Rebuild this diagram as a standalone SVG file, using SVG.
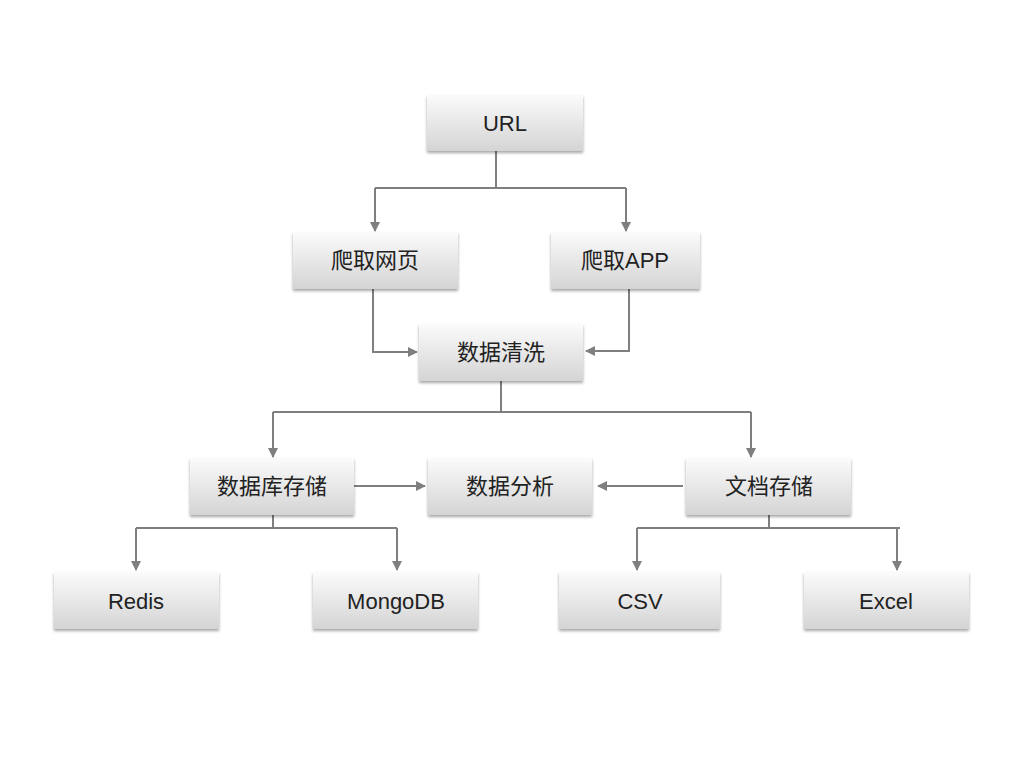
<svg xmlns="http://www.w3.org/2000/svg" width="1024" height="768" viewBox="0 0 1024 768">
<style>
.n rect{fill:url(#g);filter:url(#s)}
.n text{font-family:"Liberation Sans","Noto Sans CJK SC",sans-serif;font-size:22px;fill:#222;text-anchor:middle;dominant-baseline:central}
.c path{fill:none;stroke:#7f7f7f;stroke-width:2}
</style>
<defs>
<linearGradient id="g" x1="0" y1="0" x2="0" y2="1"><stop offset="0" stop-color="#fbfbfb"/><stop offset="1" stop-color="#d4d4d4"/></linearGradient>
<filter id="s" x="-10%" y="-20%" width="120%" height="150%"><feDropShadow dx="0" dy="2" stdDeviation="1.5" flood-color="#000" flood-opacity="0.35"/></filter>
<marker id="a" viewBox="0 0 10 10" refX="9" refY="5" markerWidth="5" markerHeight="5" orient="auto"><path d="M0,0L10,5L0,10z" fill="#7f7f7f"/></marker>
</defs>
<rect width="1024" height="768" fill="#fff"/>
<g class="c">
<path d="M496,151V188"/>
<path d="M375,188H626" />
<path d="M375,188V231" marker-end="url(#a)"/>
<path d="M626,188V231" marker-end="url(#a)"/>
<path d="M373,289V352H417" marker-end="url(#a)"/>
<path d="M629,289V351H586" marker-end="url(#a)"/>
<path d="M501,381V412M273,412H751"/>
<path d="M273,412V457" marker-end="url(#a)"/>
<path d="M751,412V457" marker-end="url(#a)"/>
<path d="M348,486H425" marker-end="url(#a)"/>
<path d="M683,486H598" marker-end="url(#a)"/>
<path d="M273,515V528M136,528H397"/>
<path d="M136,528V570" marker-end="url(#a)"/>
<path d="M397,528V570" marker-end="url(#a)"/>
<path d="M769,515V528M637,528H900"/>
<path d="M637,528V570" marker-end="url(#a)"/>
<path d="M897,528V570" marker-end="url(#a)"/>
</g>
<g id="url" class="n"><rect x="427" y="95" width="156" height="56"/><text x="505" y="123">URL</text></g>
<g id="web" class="n"><rect x="293" y="232" width="165" height="57"/><text x="375" y="260">爬取网页</text></g>
<g id="app" class="n"><rect x="551" y="232" width="149" height="57"/><text x="625" y="260">爬取APP</text></g>
<g id="clean" class="n"><rect x="419" y="324" width="164" height="57"/><text x="501" y="352">数据清洗</text></g>
<g id="db" class="n"><rect x="190" y="458" width="164" height="57"/><text x="272" y="486">数据库存储</text></g>
<g id="ana" class="n"><rect x="428" y="458" width="164" height="57"/><text x="510" y="486">数据分析</text></g>
<g id="doc" class="n"><rect x="686" y="458" width="165" height="57"/><text x="769" y="486">文档存储</text></g>
<g id="redis" class="n"><rect x="54" y="572" width="165" height="57"/><text x="136" y="601">Redis</text></g>
<g id="mongo" class="n"><rect x="313" y="572" width="165" height="57"/><text x="396" y="601">MongoDB</text></g>
<g id="csv" class="n"><rect x="559" y="572" width="161" height="57"/><text x="640" y="601">CSV</text></g>
<g id="excel" class="n"><rect x="804" y="572" width="165" height="57"/><text x="886" y="601">Excel</text></g>
</svg>
